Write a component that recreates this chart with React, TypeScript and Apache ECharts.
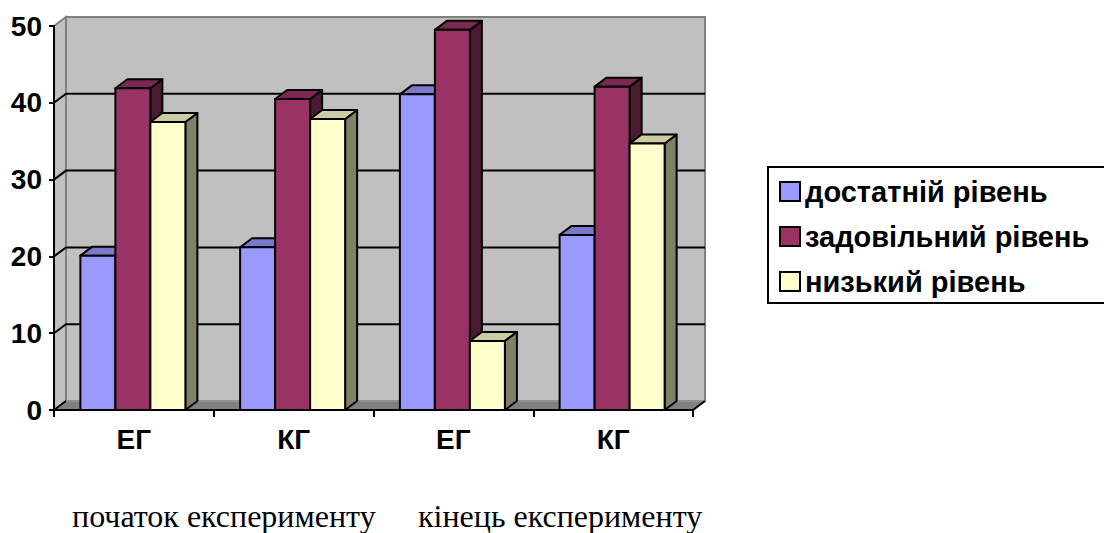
import React, { useEffect, useRef } from "react";
import * as echarts from "echarts";

const categories = ["ЕГ", "КГ", "ЕГ", "КГ"];
const seriesNames = ["достатній рівень", "задовільний рівень", "низький рівень"];
const sufficientLevel = [20.1, 21.2, 41.1, 22.8];
const satisfactoryLevel = [41.9, 40.5, 49.5, 42.1];
const lowLevel = [37.5, 37.9, 9.0, 34.7];
const yTicks = [0, 10, 20, 30, 40, 50];
const periodLabels = ["початок експерименту", "кінець експерименту"];

const SANS = 'Arial, "Liberation Sans", sans-serif';
const SERIF = '"Times New Roman", "Liberation Serif", serif';
const DX = 12;
const DY = 9;
const BAR_W = 35;

const palette = [
  { front: "#9999FF", top: "#7A7ACC", side: "#4D4D80" },
  { front: "#993366", top: "#7A2952", side: "#4D1A33" },
  { front: "#FFFFCC", top: "#CCCCA3", side: "#808066" },
];

function makeBarSeries(name: string, values: number[], idx: number) {
  const c = palette[idx];
  return {
    type: "custom",
    name,
    itemStyle: { color: c.front },
    encode: { x: 0, y: 1 },
    data: values.map((v, i) => [i, v]),
    renderItem: (params: any, api: any) => {
      const cat = api.value(0);
      const val = api.value(1);
      const base = api.coord([cat, 0]);
      const top = api.coord([cat, val]);
      const left = base[0] - 1 - 1.5 * BAR_W + idx * BAR_W;
      const ty = top[1];
      const by = base[1];
      const stroke = { stroke: "#000", lineWidth: 2, lineJoin: "round" };
      return {
        type: "group",
        children: [
          {
            type: "polygon",
            shape: {
              points: [
                [left + BAR_W, ty],
                [left + BAR_W + DX, ty - DY],
                [left + BAR_W + DX, by - DY],
                [left + BAR_W, by],
              ],
            },
            style: { fill: c.side, ...stroke },
          },
          {
            type: "polygon",
            shape: {
              points: [
                [left, ty],
                [left + DX, ty - DY],
                [left + BAR_W + DX, ty - DY],
                [left + BAR_W, ty],
              ],
            },
            style: { fill: c.top, ...stroke },
          },
          {
            type: "rect",
            shape: { x: left, y: ty, width: BAR_W, height: by - ty },
            style: { fill: c.front, ...stroke },
          },
        ],
      };
    },
  };
}

const wallSeries = {
  type: "custom",
  name: "walls",
  silent: true,
  data: [[0, 0]],
  encode: { x: 0, y: 1 },
  renderItem: (params: any, api: any) => {
    const cs = params.coordSys;
    const x0 = cs.x;
    const x1 = cs.x + cs.width;
    const yT = cs.y;
    const yB = cs.y + cs.height;
    const children: any[] = [
      {
        type: "polygon",
        shape: { points: [[x0, yT], [x0 + DX, yT - DY], [x0 + DX, yB - DY], [x0, yB]] },
        style: { fill: "#C0C0C0", stroke: "#808080", lineWidth: 2 },
      },
      {
        type: "rect",
        shape: { x: x0 + DX, y: yT - DY, width: cs.width, height: cs.height },
        style: { fill: "#C0C0C0", stroke: "#808080", lineWidth: 2 },
      },
      {
        type: "polygon",
        shape: { points: [[x0, yB], [x0 + DX, yB - DY], [x1 + DX, yB - DY], [x1, yB]] },
        style: { fill: "#808080", stroke: "#A0A0A0", lineWidth: 1 },
      },
      {
        type: "line",
        shape: { x1: x0, y1: yB, x2: x0 + DX, y2: yB - DY },
        style: { stroke: "#000", lineWidth: 2 },
      },
      {
        type: "line",
        shape: { x1: x1, y1: yB, x2: x1 + DX, y2: yB - DY },
        style: { stroke: "#000", lineWidth: 2 },
      },
    ];
    yTicks
      .filter((v) => v > yTicks[0] && v < yTicks[yTicks.length - 1])
      .forEach((v) => {
        const y = api.coord([0, v])[1];
        children.push({
          type: "polyline",
          shape: { points: [[x0, y], [x0 + DX, y - DY], [x1 + DX, y - DY]] },
          style: { stroke: "#000", lineWidth: 2, fill: null },
        });
      });
    return { type: "group", children };
  },
};

export default function App() {
  const ref = useRef<HTMLDivElement>(null);
  useEffect(() => {
    if (!ref.current) return;
    const chart = echarts.init(ref.current, undefined, { renderer: "svg" });
    chart.setOption({
      animation: false,
      backgroundColor: "#fff",
      grid: { left: 54, right: 411, top: 26, bottom: 123 },
      xAxis: {
        type: "category",
        data: categories,
        z: 5,
        axisLine: { show: true, lineStyle: { color: "#000", width: 2 } },
        axisTick: { show: true, length: 7, lineStyle: { color: "#000", width: 2 } },
        axisLabel: {
          margin: 15,
          fontSize: 28,
          fontWeight: "bold",
          fontFamily: SANS,
          color: "#000",
        },
        splitLine: { show: false },
      },
      yAxis: {
        type: "value",
        min: 0,
        max: 50,
        interval: 10,
        z: 5,
        axisLine: { show: true, lineStyle: { color: "#000", width: 2 } },
        axisTick: { show: true, length: 5, lineStyle: { color: "#000", width: 2 } },
        axisLabel: {
          margin: 12,
          fontSize: 28,
          fontWeight: "bold",
          fontFamily: SANS,
          color: "#000",
        },
        splitLine: { show: false },
      },
      legend: {
        orient: "vertical",
        left: 768,
        top: 167,
        padding: [10, 4, 8, 11],
        borderWidth: 0,
        itemWidth: 20,
        itemHeight: 19,
        itemGap: 16,
        icon: "rect",
        selectedMode: false,
        itemStyle: { borderColor: "#000", borderWidth: 2 },
        textStyle: {
          fontSize: 29,
          lineHeight: 29,
          fontWeight: "bold",
          fontFamily: SANS,
          color: "#000",
        },
        data: seriesNames,
      },
      graphic: [
        {
          type: "rect",
          silent: true,
          shape: { x: 768, y: 167, width: 360, height: 136 },
          style: { fill: "none", stroke: "#000", lineWidth: 2 },
        },
        ...periodLabels.map((t, i) => ({
          type: "text",
          x: i === 0 ? 72 : 418,
          y: 516,
          style: {
            text: t,
            fill: "#000",
            fontSize: 32,
            fontFamily: SERIF,
            align: "left",
            verticalAlign: "middle",
          },
        })),
      ],
      series: [
        wallSeries,
        makeBarSeries(seriesNames[0], sufficientLevel, 0),
        makeBarSeries(seriesNames[1], satisfactoryLevel, 1),
        makeBarSeries(seriesNames[2], lowLevel, 2),
      ],
    });
    return () => chart.dispose();
  }, []);
  return (
    <div
      ref={ref}
      style={{ position: "absolute", left: 0, top: 0, width: 1104, height: 533 }}
    />
  );
}
